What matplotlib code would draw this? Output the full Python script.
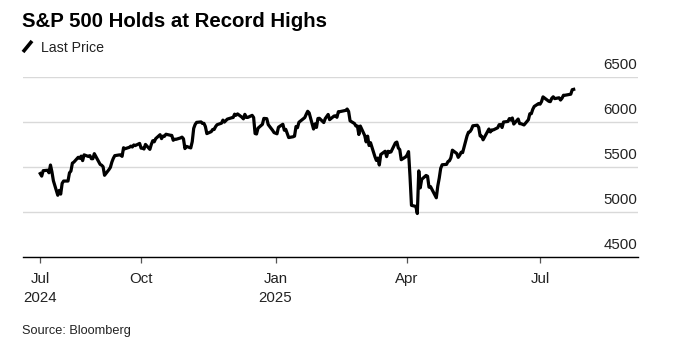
import matplotlib
matplotlib.use("Agg")
import matplotlib.pyplot as plt
import matplotlib.dates as mdates
from matplotlib.lines import Line2D
import pandas as pd

title = "S&P 500 Holds at Record Highs"
series_name = "Last Price"
source = "Source: Bloomberg"

dates = [
    "2024-07-24", "2024-07-25", "2024-07-26", "2024-07-29", "2024-07-30", "2024-07-31",
    "2024-08-01", "2024-08-02", "2024-08-05", "2024-08-06", "2024-08-07", "2024-08-08", "2024-08-09",
    "2024-08-12", "2024-08-13", "2024-08-14", "2024-08-15", "2024-08-16", "2024-08-19", "2024-08-20",
    "2024-08-21", "2024-08-22", "2024-08-23", "2024-08-26", "2024-08-27", "2024-08-28", "2024-08-29",
    "2024-08-30",
    "2024-09-03", "2024-09-04", "2024-09-05", "2024-09-06", "2024-09-09", "2024-09-10", "2024-09-11",
    "2024-09-12", "2024-09-13", "2024-09-16", "2024-09-17", "2024-09-18", "2024-09-19", "2024-09-20",
    "2024-09-23", "2024-09-24", "2024-09-25", "2024-09-26", "2024-09-27", "2024-09-30",
    "2024-10-01", "2024-10-02", "2024-10-03", "2024-10-04", "2024-10-07", "2024-10-08", "2024-10-09",
    "2024-10-10", "2024-10-11", "2024-10-14", "2024-10-15", "2024-10-16", "2024-10-17", "2024-10-18",
    "2024-10-21", "2024-10-22", "2024-10-23", "2024-10-24", "2024-10-25", "2024-10-28", "2024-10-29",
    "2024-10-30", "2024-10-31",
    "2024-11-01", "2024-11-04", "2024-11-05", "2024-11-06", "2024-11-07", "2024-11-08", "2024-11-11",
    "2024-11-12", "2024-11-13", "2024-11-14", "2024-11-15", "2024-11-18", "2024-11-19", "2024-11-20",
    "2024-11-21", "2024-11-22", "2024-11-25", "2024-11-26", "2024-11-27", "2024-11-29",
    "2024-12-02", "2024-12-03", "2024-12-04", "2024-12-05", "2024-12-06", "2024-12-09", "2024-12-10",
    "2024-12-11", "2024-12-12", "2024-12-13", "2024-12-16", "2024-12-17", "2024-12-18", "2024-12-19",
    "2024-12-20", "2024-12-23", "2024-12-24", "2024-12-26", "2024-12-27", "2024-12-30", "2024-12-31",
    "2025-01-02", "2025-01-03", "2025-01-06", "2025-01-07", "2025-01-08", "2025-01-10", "2025-01-13",
    "2025-01-14", "2025-01-15", "2025-01-16", "2025-01-17", "2025-01-21", "2025-01-22", "2025-01-23",
    "2025-01-24", "2025-01-27", "2025-01-28", "2025-01-29", "2025-01-30", "2025-01-31",
    "2025-02-03", "2025-02-04", "2025-02-05", "2025-02-06", "2025-02-07", "2025-02-10", "2025-02-11",
    "2025-02-12", "2025-02-13", "2025-02-14", "2025-02-18", "2025-02-19", "2025-02-20", "2025-02-21",
    "2025-02-24", "2025-02-25", "2025-02-26", "2025-02-27", "2025-02-28",
    "2025-03-03", "2025-03-04", "2025-03-05", "2025-03-06", "2025-03-07", "2025-03-10", "2025-03-11",
    "2025-03-12", "2025-03-13", "2025-03-14", "2025-03-17", "2025-03-18", "2025-03-19", "2025-03-20",
    "2025-03-21", "2025-03-24", "2025-03-25", "2025-03-26", "2025-03-27", "2025-03-28", "2025-03-31",
    "2025-04-01", "2025-04-02", "2025-04-03", "2025-04-04", "2025-04-07", "2025-04-08", "2025-04-09",
    "2025-04-10", "2025-04-11", "2025-04-14", "2025-04-15", "2025-04-16", "2025-04-17", "2025-04-21",
    "2025-04-22", "2025-04-23", "2025-04-24", "2025-04-25", "2025-04-28", "2025-04-29", "2025-04-30",
    "2025-05-01", "2025-05-02", "2025-05-05", "2025-05-06", "2025-05-07", "2025-05-08", "2025-05-09",
    "2025-05-12", "2025-05-13", "2025-05-14", "2025-05-15", "2025-05-16", "2025-05-19", "2025-05-20",
    "2025-05-21", "2025-05-22", "2025-05-23", "2025-05-27", "2025-05-28", "2025-05-29", "2025-05-30",
    "2025-06-02", "2025-06-03", "2025-06-04", "2025-06-05", "2025-06-06", "2025-06-09", "2025-06-10",
    "2025-06-11", "2025-06-12", "2025-06-13", "2025-06-16", "2025-06-17", "2025-06-18", "2025-06-20",
    "2025-06-23", "2025-06-24", "2025-06-25", "2025-06-26", "2025-06-27", "2025-06-30",
    "2025-07-01", "2025-07-02", "2025-07-03", "2025-07-07", "2025-07-08", "2025-07-09", "2025-07-10",
    "2025-07-11", "2025-07-14", "2025-07-15", "2025-07-16", "2025-07-17", "2025-07-18", "2025-07-21",
    "2025-07-22", "2025-07-23", "2025-07-24",
]

closes = [
    5427, 5399, 5459, 5464, 5436, 5522,
    5446, 5347, 5186, 5240, 5199, 5319, 5344,
    5344, 5435, 5455, 5543, 5554, 5608, 5597,
    5621, 5571, 5635, 5617, 5626, 5592, 5592,
    5648,
    5529, 5520, 5503, 5408, 5471, 5496, 5554,
    5596, 5626, 5634, 5635, 5618, 5714, 5703,
    5719, 5732, 5722, 5745, 5738, 5762,
    5709, 5709, 5700, 5751, 5696, 5751, 5792,
    5780, 5815, 5859, 5815, 5843, 5841, 5864,
    5853, 5851, 5797, 5809, 5808, 5823, 5832,
    5813, 5705,
    5729, 5712, 5782, 5929, 5973, 5996, 6001,
    5984, 5985, 5949, 5871, 5893, 5917, 5917,
    5949, 5970, 5987, 6021, 5999, 6032,
    6047, 6050, 6087, 6075, 6090, 6053, 6035,
    6085, 6051, 6051, 6074, 6050, 5872, 5867,
    5931, 5974, 6040, 6037, 5971, 5907, 5882,
    5869, 5942, 5975, 5909, 5918, 5827, 5836,
    5843, 5950, 5937, 5997, 6049, 6086, 6119,
    6101, 5922, 5979, 5940, 6039, 6041,
    5994, 6038, 6061, 6084, 6026, 6066, 6069,
    6052, 6115, 6115, 6129, 6144, 6117, 6013,
    5983, 5955, 5956, 5861, 5955,
    5850, 5779, 5843, 5739, 5770, 5615, 5573,
    5599, 5522, 5639, 5675, 5615, 5675, 5663,
    5668, 5768, 5777, 5712, 5693, 5581, 5612,
    5633, 5671, 5397, 5074, 5062, 4983, 5457,
    5268, 5363, 5406, 5397, 5276, 5283, 5158,
    5288, 5376, 5485, 5525, 5529, 5561, 5569,
    5604, 5687, 5650, 5607, 5631, 5664, 5660,
    5844, 5886, 5892, 5917, 5958, 5964, 5940,
    5845, 5842, 5802, 5922, 5889, 5912, 5912,
    5936, 5970, 5971, 5939, 6000, 6006, 6038,
    6022, 6045, 5977, 6033, 5982, 5981, 5967,
    6025, 6092, 6092, 6141, 6173, 6205,
    6198, 6227, 6279, 6230, 6226, 6263, 6280,
    6260, 6269, 6244, 6264, 6297, 6297, 6306,
    6309, 6359, 6363,
]

tick_dates = ["2024-07-24", "2024-10-01", "2025-01-01", "2025-04-01", "2025-07-01"]
tick_labels = ["Jul\n2024", "Oct", "Jan\n2025", "Apr", "Jul"]
y_ticks = [4500, 5000, 5500, 6000, 6500]
x_range = ["2024-07-12", "2025-09-06"]

FONT = "Liberation Sans"
plt.rcParams["font.family"] = [FONT, "DejaVu Sans"]

W, H = 673, 342
fig = plt.figure(figsize=(W / 100, H / 100), dpi=100)
ax = fig.add_axes([22.7 / W, 1 - 257 / H, (638 - 22.7) / W, (257 - 77) / H])

x = pd.to_datetime(dates)
ax.plot(x, closes, color="black", linewidth=2.3, solid_joinstyle="round", zorder=3)

ax.set_xlim(pd.to_datetime(x_range[0]), pd.to_datetime(x_range[1]))
ax.set_ylim(y_ticks[0], y_ticks[-1])

for s in ["top", "right", "left"]:
    ax.spines[s].set_visible(False)
ax.spines["bottom"].set_color("black")
ax.spines["bottom"].set_linewidth(1.0)
ax.spines["bottom"].set_zorder(4)

ax.set_yticks(y_ticks)
ax.tick_params(axis="y", left=False, labelleft=False)
ax.yaxis.grid(True, color="#d9d9d9", linewidth=1.0)
ax.set_axisbelow(True)

for v in y_ticks:
    ax.annotate(f"{v}", xy=(1.0, v), xycoords=("axes fraction", "data"),
                xytext=(-1, 5), textcoords="offset pixels",
                ha="right", va="bottom", fontsize=10.8, color="#222222")

ax.set_xticks(pd.to_datetime(tick_dates))
ax.set_xticklabels(tick_labels, fontsize=10.8, color="#222222", linespacing=1.45)
ax.tick_params(axis="x", length=4.5, width=0.9, color="#555555", pad=6)

fig.text(22 / W, 1 - 27 / H, title, fontsize=14.7, fontweight="bold",
         ha="left", va="baseline", color="black")
fig.add_artist(Line2D([23 / W, 32 / W], [1 - 52 / H, 1 - 41 / H],
                      color="black", linewidth=2.6, solid_capstyle="butt"))
fig.text(41 / W, 1 - 51.5 / H, series_name, fontsize=10.2,
         ha="left", va="baseline", color="#222222")
fig.text(22 / W, 1 - 334 / H, source, fontsize=9.2,
         ha="left", va="baseline", color="#222222")

fig.savefig("out.png", dpi=100)
